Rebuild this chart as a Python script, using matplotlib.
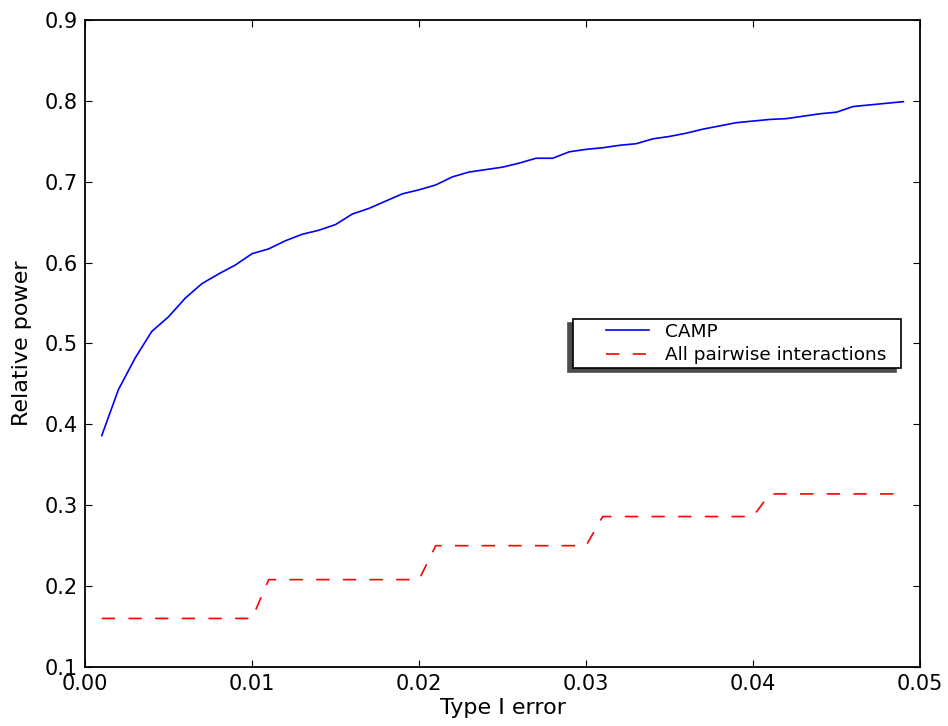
import numpy as np
import matplotlib
matplotlib.use('Agg')
from matplotlib import pyplot as plt
from matplotlib.legend_handler import HandlerLine2D


type1_error = [0.001, 0.002, 0.003, 0.004, 0.005, 0.006, 0.007, 0.008, 0.009, 0.010,
               0.011, 0.012, 0.013, 0.014, 0.015, 0.016, 0.017, 0.018, 0.019, 0.020,
               0.021, 0.022, 0.023, 0.024, 0.025, 0.026, 0.027, 0.028, 0.029, 0.030,
               0.031, 0.032, 0.033, 0.034, 0.035, 0.036, 0.037, 0.038, 0.039, 0.040,
               0.041, 0.042, 0.043, 0.044, 0.045, 0.046, 0.047, 0.048, 0.049]

camp_power = [0.386, 0.443, 0.482, 0.515, 0.533, 0.556, 0.574, 0.586, 0.597, 0.611,
              0.617, 0.627, 0.635, 0.640, 0.647, 0.660, 0.667, 0.676, 0.685, 0.690,
              0.696, 0.706, 0.712, 0.715, 0.718, 0.723, 0.729, 0.729, 0.737, 0.740,
              0.742, 0.745, 0.747, 0.753, 0.756, 0.760, 0.765, 0.769, 0.773, 0.775,
              0.777, 0.778, 0.781, 0.784, 0.786, 0.793, 0.795, 0.797, 0.799]

pairwise_power = [0.160] * 10 + [0.208] * 10 + [0.250] * 10 + [0.286] * 10 + [0.314] * 9

x_ticks = [0.00, 0.01, 0.02, 0.03, 0.04, 0.05]
y_ticks = [0.1, 0.2, 0.3, 0.4, 0.5, 0.6, 0.7, 0.8, 0.9]


class ShortHandle(HandlerLine2D):
    # old-style legend: the sample line sits to the right of its box
    def get_xdata(self, legend, xdescent, ydescent, width, height, fontsize):
        x0 = -xdescent + 0.405 * width
        xdata = np.array([x0, -xdescent + width])
        return xdata, xdata


def powerPlot():
    fig = plt.figure(figsize=(9.48, 7.26), dpi=100)
    ax = fig.add_axes([0.0897, 0.0813, 0.8808, 0.8912])

    ax.plot(type1_error, camp_power, color='blue', linewidth=1.2, label='CAMP')
    ax.plot(type1_error, pairwise_power, color='red', linewidth=1.2,
            linestyle='--', dashes=(8, 8), label='All pairwise interactions')

    ax.set_xlim(0, 0.05)
    ax.set_ylim(0.1, 0.9)
    ax.set_xticks(x_ticks)
    ax.set_yticks(y_ticks)
    ax.set_xticklabels(['%.2f' % v for v in x_ticks])
    ax.set_yticklabels(['%.1f' % v for v in y_ticks])
    ax.tick_params(direction='in', length=5, width=0.8, top=True, right=True,
                   labelsize=15, pad=5)
    for sp in ax.spines.values():
        sp.set_linewidth(1.3)

    ax.set_xlabel('Type I error', fontsize=16, labelpad=3)
    ax.set_ylabel('Relative power', fontsize=16, labelpad=9)

    leg = ax.legend(loc='upper left', bbox_to_anchor=(0.5844, 0.4637, 0.3929, 0.0742),
                    mode='expand', borderaxespad=0,
                    fontsize=13.3, handlelength=3.9, handletextpad=0.9, borderpad=0.2,
                    labelspacing=0.3, fancybox=False, framealpha=1,
                    shadow={'ox': -3.5, 'oy': -3, 'color': '0.3', 'alpha': 1},
                    handler_map={matplotlib.lines.Line2D: ShortHandle()})
    leg.get_frame().set_edgecolor('black')
    leg.get_frame().set_linewidth(1.2)

    fig.savefig('out.png', dpi=100, facecolor='white')


powerPlot()
